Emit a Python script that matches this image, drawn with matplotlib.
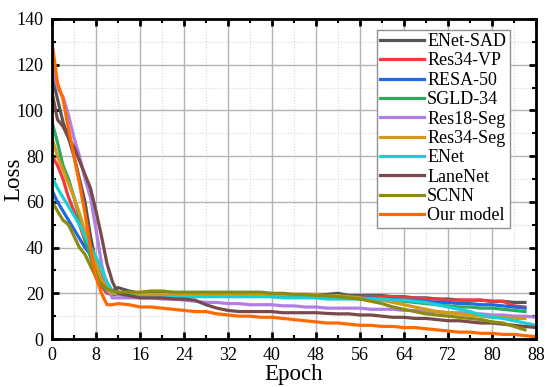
import matplotlib
matplotlib.use("Agg")
import matplotlib.pyplot as plt
from matplotlib.ticker import MultipleLocator

plt.rcParams['font.family'] = ['Liberation Serif', 'DejaVu Serif']

epochs = list(range(0, 13)) + list(range(14, 89, 2))

enet_sad = [115, 105, 95, 88, 80, 70, 60, 45, 33, 25, 21, 21, 22.5,
            21, 20, 20, 20, 19.5, 19.5, 19.5, 19.5, 19.5, 19.5, 19.5, 19.5, 19.5, 19.5, 19.5, 19.5, 19.5,
            19.5, 19.5, 20, 19, 19, 19, 19, 18.5, 18.5, 18, 18, 17.5, 17.5, 17, 17, 17, 16.5, 16.5, 16, 16]
res34_vp = [80, 76, 70, 62, 56, 50, 43, 36, 29, 23, 20, 19.5, 19.5,
            19.5, 19.5, 19, 19, 19, 19, 19, 19, 19, 19, 19, 19, 19, 19, 19, 19, 19,
            18.5, 18.5, 18.5, 18.5, 18.5, 18.5, 18.5, 18.5, 18, 18, 17.5, 17.5, 17, 17, 17, 17, 16.5, 16.5, 14.5, 14]
resa_50 = [65, 60, 56, 52, 48, 44, 40, 37, 33, 27, 21, 19.5, 19.5,
           19, 19, 19, 19, 19, 19, 19, 19, 19, 19, 19, 19, 19, 19, 19, 19, 19,
           18.5, 18.5, 18.5, 18.5, 18, 18, 17.5, 17.5, 17, 17, 16.5, 16, 16, 15.5, 15.5, 15, 15, 14.5, 14, 13.5]
sgld_34 = [95, 86, 76, 70, 62, 53, 44, 36, 29, 24, 21, 20, 20,
           19.5, 19.5, 19, 19, 19, 19, 19, 19, 19, 19, 19, 19, 19, 18.5, 18.5, 18.5, 18.5,
           18.5, 18.5, 18, 18, 17.5, 17.5, 17, 17, 16.5, 16, 15.5, 15, 14.5, 14, 14, 13.5, 13.5, 13, 12.5, 12]
res18_seg = [120, 110, 106, 98, 88, 80, 70, 62, 48, 33, 22, 18, 18,
             18, 18, 18, 17.5, 17.5, 17, 16.5, 16, 16, 15.5, 15.5, 15, 15, 15, 14.5, 14.5, 14,
             14, 13.5, 13.5, 13.5, 13.5, 13, 13, 13, 12.5, 12.5, 12, 12, 11.5, 11.5, 11, 11, 10.5, 10.5, 10, 10, 9.5]
res34_seg = [88, 80, 74, 68, 62, 55, 47, 40, 33, 26, 22, 20, 19.5,
             19.5, 19.5, 19.5, 19.5, 19.5, 19.5, 19.5, 19.5, 19.5, 19.5, 19.5, 19.5, 19.5, 19.5, 19.5, 19.5, 19.5,
             19.5, 19, 19, 18.5, 18, 17.5, 17, 16, 15, 14, 13, 12, 11.5, 11, 10.5, 10, 9.5, 9.5, 9, 9]
enet = [71, 66, 62, 58, 54, 50, 45, 40, 36, 31, 25, 21, 20,
        19, 18.5, 18.5, 18.5, 18.5, 18.5, 18.5, 18.5, 18.5, 18.5, 18.5, 18.5, 18.5, 18.5, 18, 18, 18,
        18, 17.5, 17.5, 17.5, 17.5, 17.5, 17.5, 17, 17, 16.5, 16, 15, 14, 13, 12, 10.5, 9.5, 9, 8, 7, 6]
lanenet = [108, 96, 93, 88, 84, 78, 72, 66, 56, 45, 33, 25, 20,
           19, 18, 18, 18, 17.5, 17.5, 17, 15, 13.5, 12.5, 12, 12, 12, 12, 11.5, 11.5, 11.5,
           11.5, 11.2, 11, 11, 10.5, 10.5, 10, 9.5, 9.5, 9, 9, 8.5, 8, 8, 7.5, 7, 7, 6.5, 6, 5.5, 5]
scnn = [60, 56, 52, 50, 45, 40, 37, 32, 27, 24, 22, 21, 20.5,
        20.5, 20.5, 21, 21, 20.5, 20.5, 20.5, 20.5, 20.5, 20.5, 20.5, 20.5, 20.5, 20, 20, 19.5, 19.5,
        19, 19, 18.5, 18, 17.5, 16.5, 15.5, 14, 13, 12, 11, 10.5, 10, 9.5, 9, 8.5, 7.5, 7, 5.5, 4]
our_model = [130, 112, 105, 92, 80, 68, 55, 40, 27, 20, 15, 15, 15.5,
             15, 14, 14, 13.5, 13, 12.5, 12, 12, 11, 10.5, 10, 10, 9.5, 9.5, 9, 8.5, 8,
             7.5, 7, 7, 6.5, 6, 6, 5.5, 5.5, 5, 5, 4.5, 4, 3.5, 3, 3, 2.5, 2.5, 2, 2, 1.5, 1]

labels = ['ENet-SAD', 'Res34-VP', 'RESA-50', 'SGLD-34', 'Res18-Seg',
          'Res34-Seg', 'ENet', 'LaneNet', 'SCNN', 'Our model']
series = [enet_sad, res34_vp, resa_50, sgld_34, res18_seg,
          res34_seg, enet, lanenet, scnn, our_model]
colors = ['#555555', '#f5383c', '#1e6ae0', '#2fa862', '#b07fe6',
          '#d19a18', '#1ccfd4', '#7a4a4a', '#8c8a10', '#ff6a00']

fig = plt.figure(figsize=(5.5, 3.87), dpi=100)
ax = fig.add_axes([0.0945, 0.124, 0.88, 0.827])

for y, lab, c in zip(series, labels, colors):
    ax.plot(epochs[:len(y)], y, color=c, lw=2.3, label=lab)

ax.set_xlim(0, 88)
ax.set_ylim(0, 140)
ax.xaxis.set_major_locator(MultipleLocator(8))
ax.xaxis.set_minor_locator(MultipleLocator(4))
ax.yaxis.set_major_locator(MultipleLocator(20))
ax.yaxis.set_minor_locator(MultipleLocator(10))

ax.grid(which='major', color='#b4b4b4', lw=1.0, ls='-')
ax.grid(which='minor', color='#d8d8d8', lw=0.8, ls=':')
ax.set_axisbelow(True)

for s in ax.spines.values():
    s.set_linewidth(2)
ax.tick_params(which='both', direction='in', top=True, right=True, labelsize=13)
ax.tick_params(which='major', length=5, width=2, pad=6)
ax.tick_params(which='minor', length=3, width=1.5)

ax.set_xlabel('Epoch', fontsize=16.5, labelpad=0)
ax.set_ylabel('Loss', fontsize=16.5)
ax.yaxis.set_label_coords(-0.058, 0.5)

leg = ax.legend(loc='upper right', bbox_to_anchor=(0.946, 0.967), borderaxespad=0,
                fontsize=13, fancybox=False, framealpha=1, edgecolor='#909090',
                handlelength=2.4, handletextpad=0.2, labelspacing=0.13,
                borderpad=0.2)
leg.get_frame().set_linewidth(1)

fig.savefig('out.png', dpi=100)
